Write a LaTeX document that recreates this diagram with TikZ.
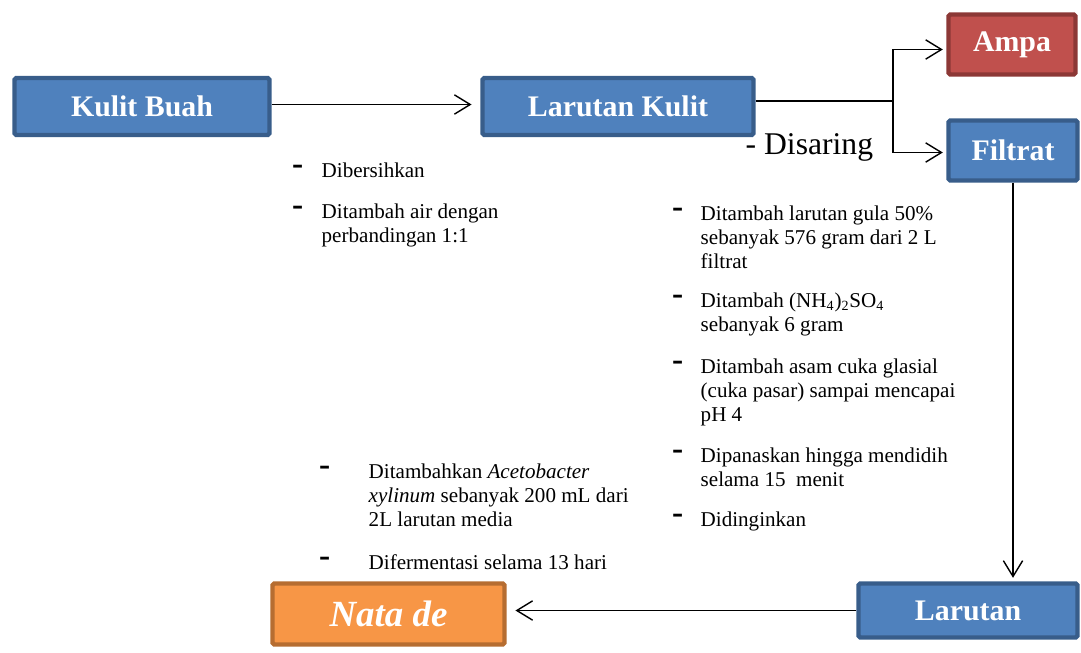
\documentclass[tikz,border=0pt]{standalone}
\usepackage{fontspec}
\setmainfont{Liberation Serif}
\usepackage{xcolor}
\usepackage{tikz}
\usetikzlibrary{arrows.meta}
\usetikzlibrary{calc}
\usetikzlibrary{positioning}

\definecolor{boxblue}{HTML}{4F81BD}
\definecolor{lineblue}{HTML}{385D8A}
\definecolor{boxred}{HTML}{C0504D}
\definecolor{linered}{HTML}{8C3836}
\definecolor{boxorange}{HTML}{F79646}
\definecolor{lineorange}{HTML}{B66D31}

\newcommand{\strip}{\fontsize{19}{19}\selectfont\bfseries -}

\begin{document}
\begin{tikzpicture}[x=0.02cm,y=-0.02cm,>={Straight Barb[length=9pt,width=11pt]},line width=0.8pt]
  \tikzstyle{blok}=[draw=lineblue, fill=boxblue, line width=2.5pt, rounded corners=1pt, text=white, font=\fontsize{17}{20}\selectfont\bfseries, inner sep=0pt]
  \tikzstyle{keterangan}=[anchor=base west, align=left, inner sep=0pt, font=\fontsize{12}{13.6}\selectfont]
  \tikzstyle{tanda}=[anchor=base east, inner sep=0pt]
  \useasboundingbox (0,0) rectangle (1081,652);

  % kotak proses
  \node[blok, minimum width=5.1cm, minimum height=1.14cm] (kulit) at (142,106.5) {Kulit Buah};
  \node[blok, minimum width=5.42cm, minimum height=1.14cm] (larutankulit) at (618,106.5) {Larutan Kulit};
  \node[blok, draw=linered, fill=boxred, minimum width=2.54cm, minimum height=1.2cm] (ampa) at (1012,44.5) {Ampa};
  \node[blok, minimum width=2.58cm, minimum height=1.2cm] (filtrat) at (1013,150.5) {Filtrat};
  \node[blok, minimum width=4.38cm, minimum height=1.08cm] (larutan) at (968,610.5) {Larutan};
  \node[blok, draw=lineorange, fill=boxorange, minimum width=4.64cm, minimum height=1.22cm, font=\fontsize{21}{24}\selectfont\bfseries\itshape] (nata) at (388.5,614) {Nata de};

  % panah
  \coordinate (split) at (893,101);
  \draw[->, shorten >=5pt] ($(kulit.east)+(0,-2)$) -- ($(kulit.east -| larutankulit.west)+(0,-2)$);
  \draw (larutankulit.east |- split) -- (split);
  \draw[->, shorten >=2pt] (split) |- ($(ampa.west)+(0,5)$);
  \draw[->, shorten >=2pt] (split) |- ($(filtrat.west)+(0,2)$);
  \draw[->, shorten >=2pt] (filtrat.south) -- (filtrat.south |- larutan.north);
  \draw[->, shorten >=5pt] (larutan.west) -- (larutan.west -| nata.east);

  \node[anchor=base west, inner sep=0pt, font=\fontsize{18}{20}\selectfont] (saring) at (745,154) {- Disaring};

  % keterangan kulit buah (titik = baris terakhir)
  \node[keterangan] (k1) at (321,177) {Dibersihkan};
  \node[keterangan] (k2) at (321,242) {Ditambah air dengan\\perbandingan 1:1};
  \node[tanda] at ($(k1.base west)+(-17,-3)$) {\strip};
  \node[tanda] at ($(k2.base west)+(-17,-27)$) {\strip};

  % keterangan filtrat
  \node[keterangan] (f1) at (700,268) {Ditambah larutan gula 50\%\\sebanyak 576 gram dari 2 L\\filtrat};
  \node[keterangan] (f2) at (700,331) {Ditambah (NH\textsubscript{4})\textsubscript{2}SO\textsubscript{4}\\sebanyak 6 gram};
  \node[keterangan] (f3) at (700,421) {Ditambah asam cuka glasial\\(cuka pasar) sampai mencapai\\pH 4};
  \node[keterangan] (f4) at (700,486) {Dipanaskan hingga mendidih\\selama 15~ menit};
  \node[keterangan] (f5) at (700,526) {Didinginkan};
  \foreach \n/\r in {f1/2,f2/1,f3/2,f4/1,f5/0}
    \node[tanda] at ($(\n.base west)+(-16,-3-24*\r)$) {\strip};

  % keterangan larutan
  \node[keterangan] (l1) at (368,526) {Ditambahkan \textit{Acetobacter}\\\textit{xylinum} sebanyak 200 mL dari\\2L larutan media};
  \node[keterangan] (l2) at (368,569) {Difermentasi selama 13 hari};
  \foreach \n/\r in {l1/2,l2/0}
    \node[tanda] at ($(\n.base west)+(-37,-3-24*\r)$) {\strip};
\end{tikzpicture}
\end{document}
